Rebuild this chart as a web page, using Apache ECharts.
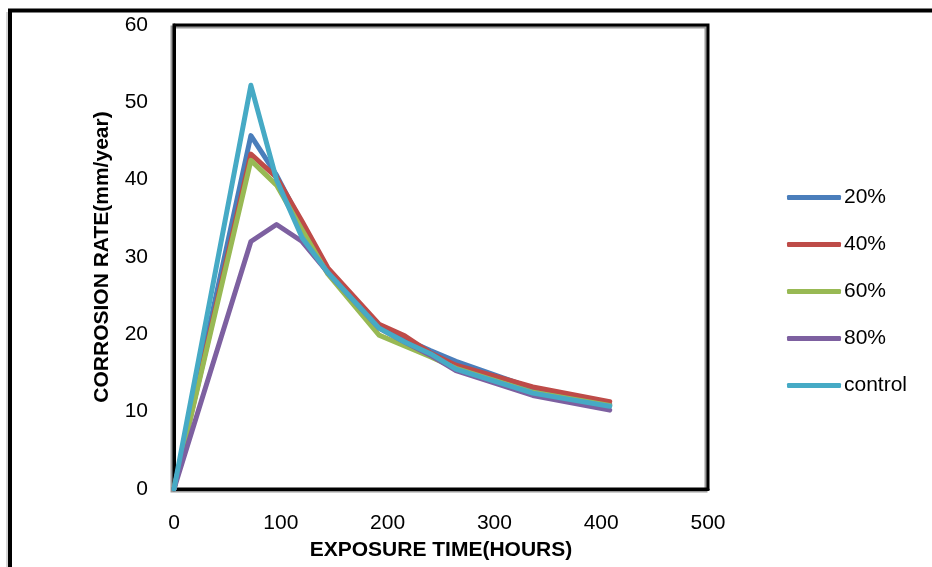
<!DOCTYPE html>
<html>
<head>
<meta charset="utf-8">
<script src="https://cdn.jsdelivr.net/npm/echarts@6/dist/echarts.min.js"></script>
<style>html,body{margin:0;padding:0;background:#fff}#c{width:932px;height:567px}</style>
</head>
<body>
<div id="c"></div>
<script>
const hours = [0, 72, 96, 120, 144, 192, 216, 240, 264, 336, 408];
const s20 = [0, 45.7, 40.6, 34.2, 28.2, 21.2, 19.4, 17.9, 16.5, 13.0, 10.9];
const s40 = [0, 43.3, 40.3, 34.6, 28.6, 21.3, 19.8, 17.6, 16.0, 13.2, 11.3];
const s60 = [0, 42.5, 39.3, 33.5, 27.8, 19.9, 18.5, 17.1, 15.6, 12.5, 10.8];
const s80 = [0, 32.0, 34.2, 32.0, 28.0, 20.8, 19.0, 17.3, 15.3, 12.1, 10.2];
const sControl = [0, 52.2, 40.0, 32.5, 28.0, 20.8, 19.0, 17.5, 15.5, 12.4, 10.7];
const seriesNames = ['20%', '40%', '60%', '80%', 'control'];
const seriesData = [s20, s40, s60, s80, sControl];
const colors = ['#4A7EBB', '#BE4B48', '#98B954', '#7D60A0', '#46AAC5'];
const xTitle = 'EXPOSURE TIME(HOURS)';
const yTitle = 'CORROSION RATE(mm/year)';

const chart = echarts.init(document.getElementById('c'));
const font = 'Liberation Sans';
chart.setOption({
  animation: false,
  backgroundColor: '#fff',
  color: colors,
  grid: {
    left: 174, right: 224, top: 25, bottom: 78,
    outerBoundsMode: 'none', containLabel: false,
    show: true, backgroundColor: '#fff', borderColor: '#000', borderWidth: 3,
    shadowColor: '#9a9a9a', shadowOffsetX: -2, shadowOffsetY: 2, shadowBlur: 0
  },
  legend: {
    orient: 'vertical', left: 782, top: 182,
    itemWidth: 54, itemHeight: 5, itemGap: 26,
    icon: 'roundRect',
    textStyle: { fontFamily: font, fontSize: 21, color: '#000', padding: [0, 0, 0, -2] },
    data: seriesNames
  },
  xAxis: {
    type: 'value', min: 0, max: 500, interval: 100,
    name: xTitle, nameLocation: 'middle', nameGap: 51,
    nameTextStyle: { fontFamily: font, fontSize: 21, fontWeight: 'bold', color: '#000' },
    axisLine: { show: true, lineStyle: { color: '#000', width: 3 } },
    axisTick: { show: false },
    splitLine: { show: false },
    axisLabel: { fontFamily: font, fontSize: 21, color: '#000', margin: 24 }
  },
  yAxis: {
    type: 'value', min: 0, max: 60, interval: 10,
    name: yTitle, nameLocation: 'middle', nameGap: 61, nameRotate: 90,
    nameTextStyle: { fontFamily: font, fontSize: 21, fontWeight: 'bold', color: '#000' },
    axisLine: { show: true, lineStyle: { color: '#000', width: 3 } },
    axisTick: { show: false },
    splitLine: { show: false },
    axisLabel: { fontFamily: font, fontSize: 21, color: '#000', margin: 26 }
  },
  graphic: [
    { type: 'polyline', z: 100, silent: true,
      shape: { points: [[10, 570], [10, 10.5], [935, 10.5]] },
      style: { stroke: '#000', lineWidth: 4, fill: null } },
    { type: 'line', z: 99, silent: true,
      shape: { x1: 7, y1: 12, x2: 7, y2: 570 },
      style: { stroke: '#aaa', lineWidth: 1 } }
  ],
  series: seriesNames.map((n, i) => ({
    name: n, type: 'line', showSymbol: false, symbol: 'none',
    data: hours.map((h, j) => [h, seriesData[i][j]]),
    lineStyle: { width: 5, color: colors[i], join: 'round', cap: 'round' },
    z: 3
  }))
});
</script>
</body>
</html>
